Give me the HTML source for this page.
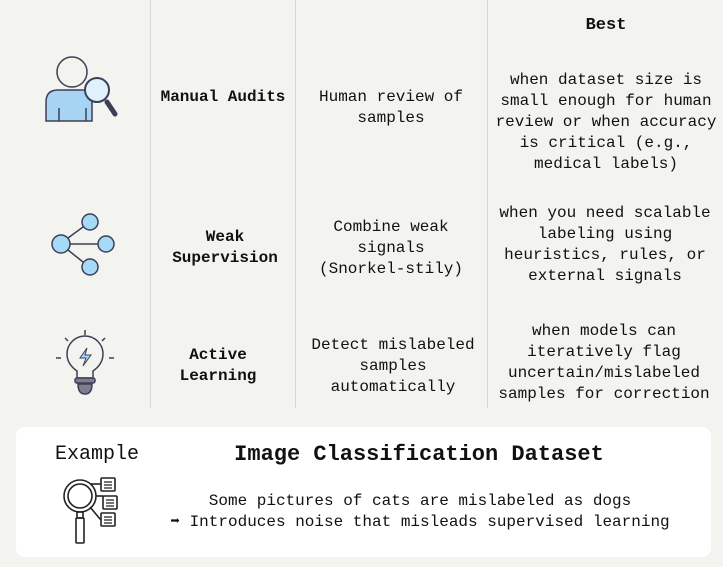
<!DOCTYPE html>
<html><head><style>
body{margin:0;width:723px;height:567px;background:#f3f3ef;font-family:"Liberation Mono",monospace;color:#111;position:relative;overflow:hidden}
.t{position:absolute;text-align:center;font-size:16px;line-height:21px;transform:translateX(-50%);white-space:nowrap}
.b{font-weight:bold}
.v{position:absolute;top:0;height:408px;width:1px;background:#d8d8d4}
</style></head><body>
<div class="v" style="left:150px"></div>
<div class="v" style="left:295px"></div>
<div class="v" style="left:487px"></div>

<div class="t b" style="left:606px;top:15px;font-size:17px">Best</div>

<svg style="position:absolute;left:0;top:0" width="150" height="410">
<g stroke="#3e3f57" stroke-width="1.5">
<circle cx="72" cy="72" r="15" fill="none"/>
<path d="M46 121 V102 Q46 90 58 90 H92 V121 Z" fill="#a7d4f2"/>
<line x1="59" y1="108" x2="59" y2="121"/><line x1="86" y1="108" x2="86" y2="121"/>
<line x1="107" y1="102" x2="115" y2="114" stroke-width="5" stroke-linecap="round"/>
<circle cx="97" cy="90" r="12" fill="#dff2fb" stroke-width="2"/>
<g fill="#a6daf7"><circle cx="90" cy="222" r="8"/><circle cx="61" cy="244" r="9"/><circle cx="106" cy="244" r="8"/><circle cx="90" cy="267" r="8"/></g>
<line x1="70" y1="244" x2="98" y2="244"/><line x1="68" y1="238" x2="83" y2="227"/><line x1="68" y1="250" x2="83" y2="262"/>
<path d="M77 371 Q67 364 67 354 A18 18 0 0 1 103 354 Q103 364 93 371 V378 H77 Z" fill="none"/>
<path d="M87 348 L80 358 H86 L83 366 L91 355 H85 Z" fill="#a6daf7" stroke-width="1"/>
<rect x="75" y="378" width="20" height="5" rx="2" fill="#7c7d90"/>
<path d="M78 384 H92 Q92 394 85 394 Q78 394 78 384Z" fill="#7c7d90"/>
<line x1="85" y1="330" x2="85" y2="335"/><line x1="65" y1="338" x2="68" y2="341"/><line x1="105" y1="338" x2="102" y2="341"/><line x1="56" y1="358" x2="61" y2="358"/><line x1="109" y1="358" x2="114" y2="358"/>
</g></svg>

<div class="t b" style="left:223px;top:87px">Manual Audits</div>
<div class="t b" style="left:225px;top:227px">Weak<br>Supervision</div>
<div class="t b" style="left:218px;top:345px">Active<br>Learning</div>

<div class="t" style="left:391px;top:87px">Human review of<br>samples</div>
<div class="t" style="left:391px;top:217px">Combine weak<br>signals<br>(Snorkel-stily)</div>
<div class="t" style="left:393px;top:335px">Detect mislabeled<br>samples<br>automatically</div>

<div class="t" style="left:606px;top:70px">when dataset size is<br>small enough for human<br>review or when accuracy<br>is critical (e.g.,<br>medical labels)</div>
<div class="t" style="left:605px;top:203px">when you need scalable<br>labeling using<br>heuristics, rules, or<br>external signals</div>
<div class="t" style="left:604px;top:321px">when models can<br>iteratively flag<br>uncertain/mislabeled<br>samples for correction</div>

<div style="position:absolute;left:16px;top:427px;width:695px;height:130px;background:#fff;border-radius:9px"></div>
<div class="t" style="left:97px;top:442px;font-size:20px;line-height:26px">Example</div>
<div class="t b" style="left:419px;top:441px;font-size:22px;line-height:27px">Image Classification Dataset</div>
<div class="t" style="left:420px;top:491px">Some pictures of cats are mislabeled as dogs<br>➡ Introduces noise that misleads supervised learning</div>
<svg style="position:absolute;left:60px;top:475px" width="70" height="75">
<g stroke="#222" stroke-width="1.6" fill="none">
<circle cx="20" cy="21" r="16"/><circle cx="20" cy="21" r="12"/>
<rect x="17" y="37" width="6" height="6"/><rect x="16" y="43" width="8" height="25" rx="1"/>
<line x1="30" y1="9" x2="41" y2="9"/><path d="M36 21 H43"/><path d="M30 32 L40 44 H41"/>
<rect x="41" y="3" width="14" height="13" rx="1"/><rect x="43" y="21" width="14" height="13" rx="1"/><rect x="41" y="38" width="14" height="13" rx="1"/>
<path d="M44 7h8M44 10h8M44 13h8M46 25h8M46 28h8M46 31h8M44 42h8M44 45h8M44 48h8" stroke-width="1.2"/>
</g></svg>
</body></html>
